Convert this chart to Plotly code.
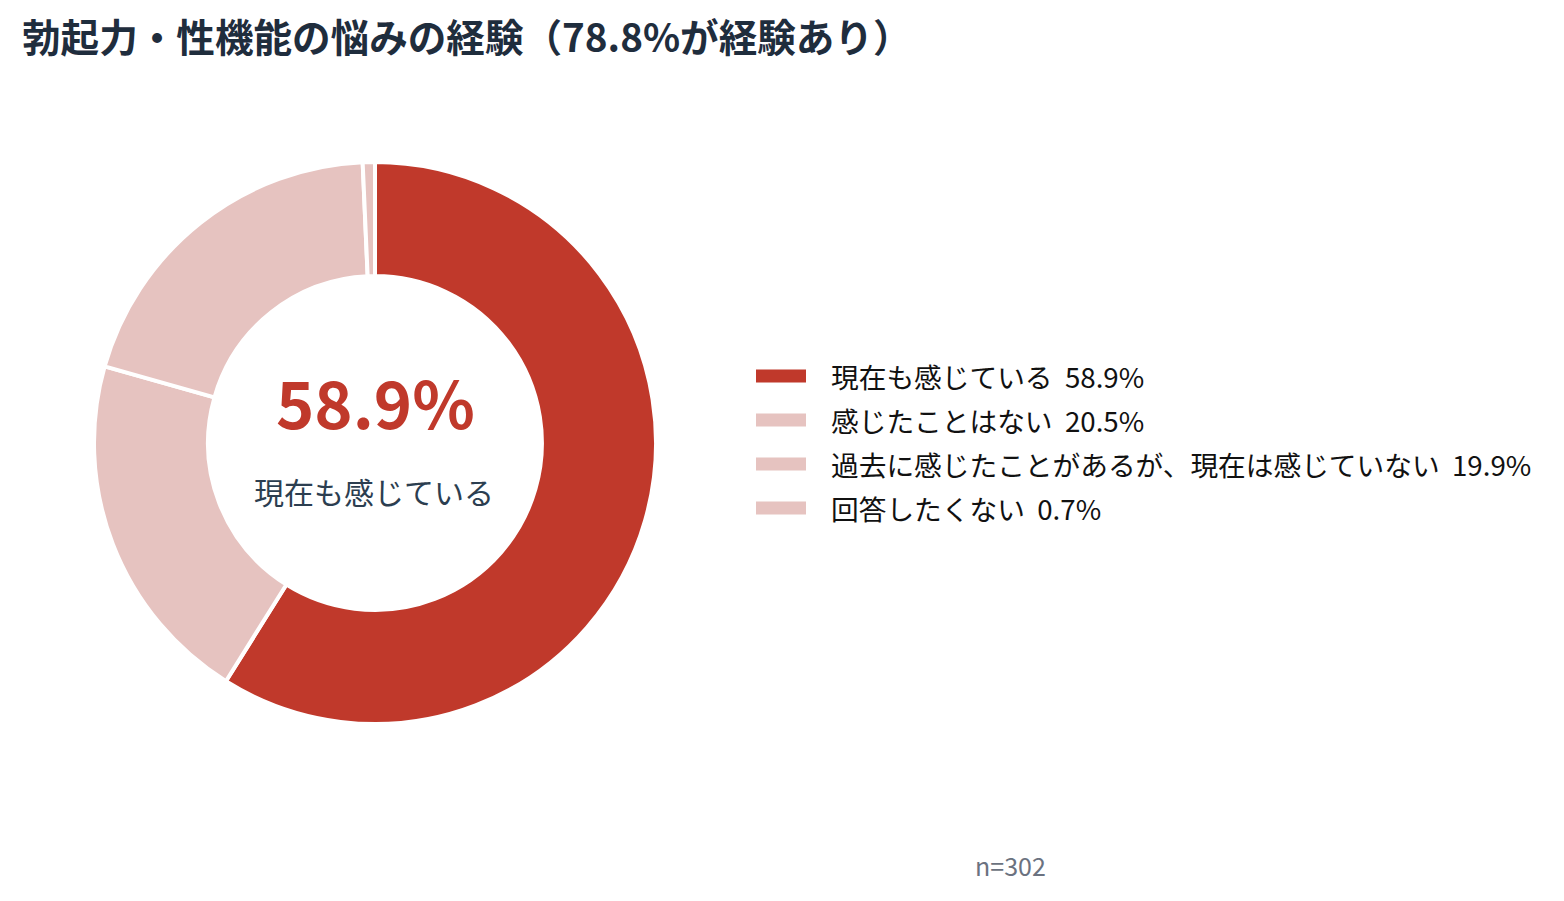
import plotly.graph_objects as go

# data
labels = ["現在も感じている", "感じたことはない", "過去に感じたことがあるが、現在は感じていない", "回答したくない"]
values = [58.9, 20.5, 19.9, 0.7]
colors = ["#C0392B", "#E6C3C0", "#E6C3C0", "#E6C3C0"]
title_text = "勃起力・性機能の悩みの経験（78.8%が経験あり）"
center_value = "58.9%"
center_label = "現在も感じている"
n_note = "n=302"

W, H = 1564, 901
OFF = 8  # page body margin
FONT = "Noto Sans CJK JP"


def px(x):
    return (x - OFF) / W


def py(y):
    return 1 - (y - OFF) / H


fig = go.Figure()

fig.add_trace(go.Pie(
    labels=labels, values=values, hole=0.594,
    sort=False, direction="clockwise", rotation=0,
    marker=dict(colors=colors, line=dict(color="white", width=4)),
    textinfo="none", hoverinfo="label+percent", showlegend=False,
    domain=dict(x=[px(94), px(656)], y=[py(724), py(162)]),
))

# center text
fig.add_annotation(x=px(375), y=py(401), xref="paper", yref="paper",
                   xanchor="center", yanchor="middle",
                   text=f"<b>{center_value}</b>", showarrow=False,
                   font=dict(family=FONT, size=65, color="#C0392B"))
fig.add_annotation(x=px(374), y=py(491), xref="paper", yref="paper",
                   xanchor="center", yanchor="middle",
                   text=center_label, showarrow=False,
                   font=dict(family=FONT, size=30, color="#2C3E50"))

# custom legend (wide swatches)
for i, (lab, val, col) in enumerate(zip(labels, values, colors)):
    yc = 376 + i * 44
    fig.add_shape(type="rect", xref="paper", yref="paper",
                  x0=px(756), x1=px(806), y0=py(yc + 6.5), y1=py(yc - 6.5),
                  fillcolor=col, line=dict(width=0))
    fig.add_annotation(x=px(829), y=py(yc), xref="paper", yref="paper",
                       xanchor="left", yanchor="middle", showarrow=False,
                       text=f"{lab}  {val}%",
                       font=dict(family=FONT, size=27.7, color="#111111"))

fig.add_annotation(x=px(1011), y=py(865), xref="paper", yref="paper",
                   xanchor="center", yanchor="middle",
                   text=n_note, showarrow=False,
                   font=dict(family=FONT, size=25, color="#6B7280"))

fig.update_layout(
    width=W, height=H,
    title=dict(text=f"<b>{title_text}</b>", x=px(22), xanchor="left",
               y=py(38), yanchor="middle",
               font=dict(family=FONT, size=38.6, color="#1F2D3D")),
    margin=dict(l=0, r=0, t=0, b=0),
    paper_bgcolor="white", plot_bgcolor="white",
)

fig.write_html("out.html")
